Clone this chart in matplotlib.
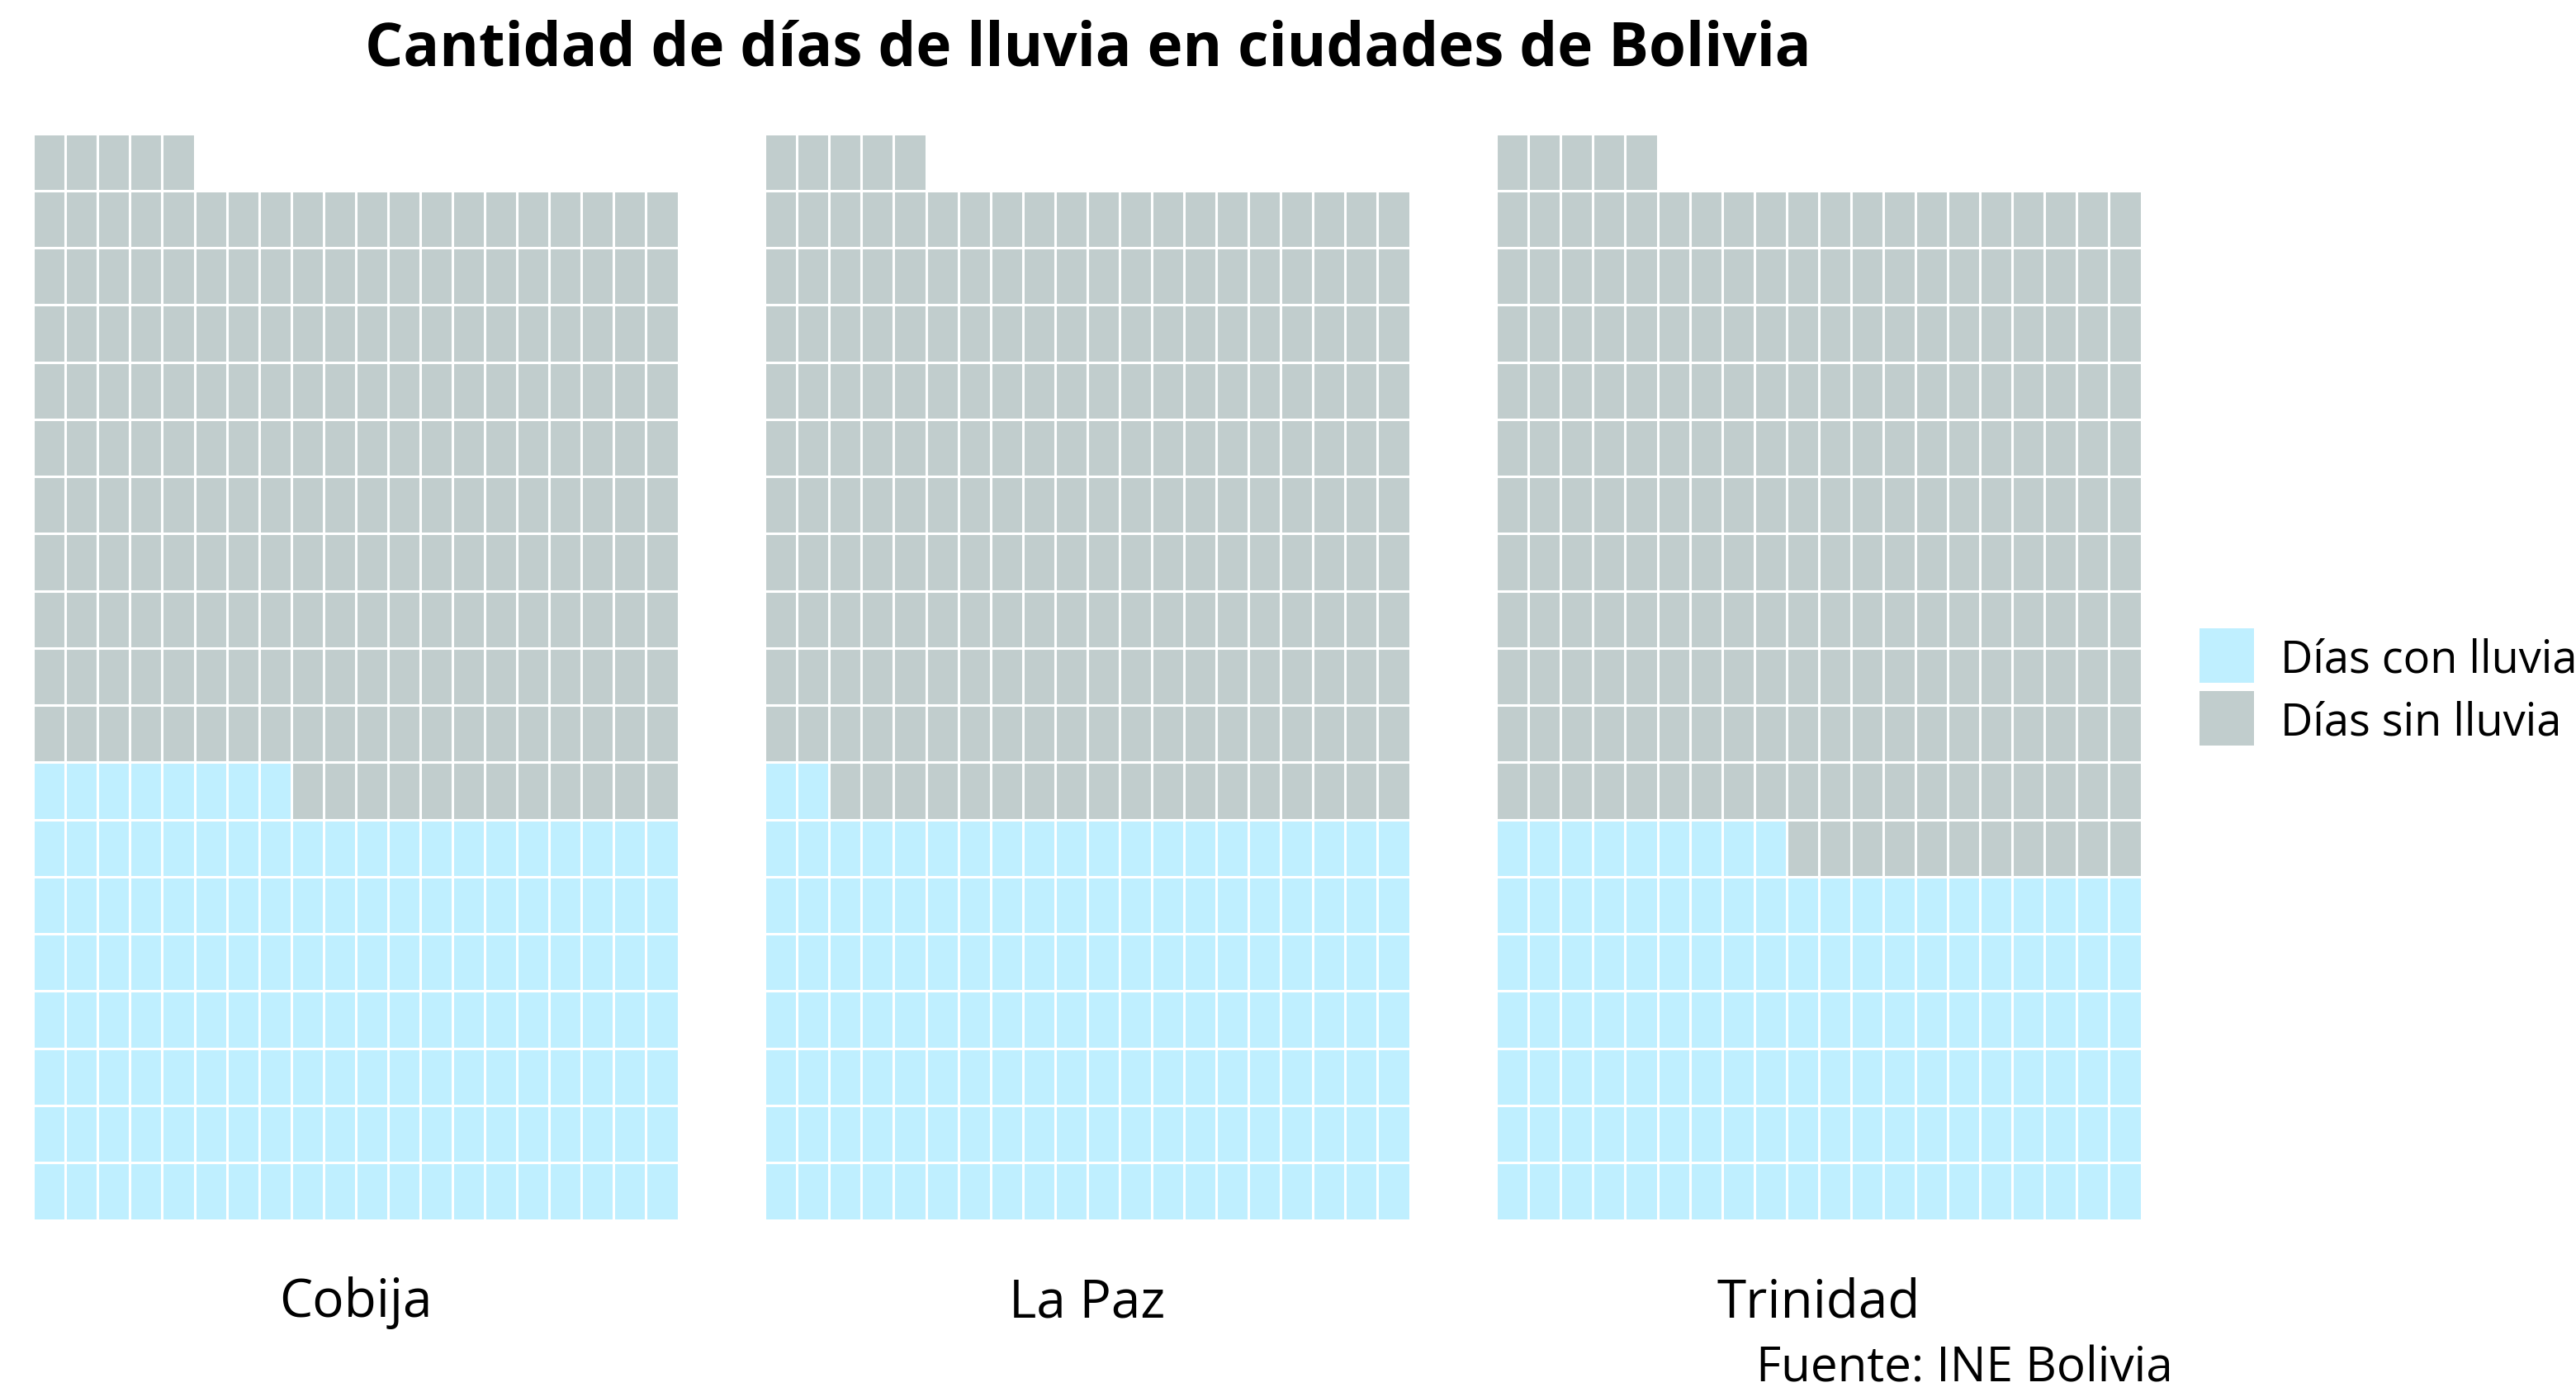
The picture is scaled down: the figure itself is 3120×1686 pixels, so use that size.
import numpy as np
import matplotlib
matplotlib.use('Agg')
import matplotlib.pyplot as plt
from matplotlib.patches import Rectangle

plt.rcParams['font.family'] = ['Open Sans', 'DejaVu Sans']

# data
ciudades = ['Cobija', 'La Paz', 'Trinidad']
dias_lluvia = [148, 142, 129]
dias_totales = 365
categorias = ['Días con lluvia', 'Días sin lluvia']
colores = ['#BFEFFF', '#C1CDCD']
n_cols = 20

W, H = 3120, 1686
fig = plt.figure(figsize=(W / 200, H / 200), dpi=200, facecolor='white')

panel_x = [40.2 / W, 926.2 / W, 1812.2 / W]
panel_w = 781.3 / W
panel_b = 1 - 1477.5 / H
panel_h = 1316 / H
for i, ciudad in enumerate(ciudades):
    ax = fig.add_axes([panel_x[i], panel_b, panel_w, panel_h])
    idx = np.arange(dias_totales)
    cols = idx % n_cols
    rows = idx // n_cols
    cell_colors = [colores[0] if k < dias_lluvia[i] else colores[1] for k in idx]
    ax.bar(cols, 1, bottom=rows, width=1, align='edge', color=cell_colors,
           edgecolor='white', linewidth=1.1)
    ax.set_xlim(0, n_cols)
    ax.set_ylim(0, int(np.ceil(dias_totales / n_cols)))
    ax.axis('off')
    fig.text(panel_x[i] + panel_w / 2, 1 - 1578 / H, ciudad, ha='center',
             va='center', fontsize=23)

fig.text(1318 / W, 1 - 60 / H, 'Cantidad de días de lluvia en ciudades de Bolivia',
         ha='center', va='center', fontsize=26.2, fontweight='bold')
fig.text(2632 / W, 1 - 1658 / H, 'Fuente: INE Bolivia', ha='right',
         va='center', fontsize=21)

# legend drawn by hand so the keys match the reference size
for j, (lab, col) in enumerate(zip(categorias, colores)):
    y0 = 761 + j * 76
    fig.add_artist(Rectangle((2664 / W, 1 - (y0 + 66) / H), 66 / W, 66 / H,
                             transform=fig.transFigure, facecolor=col,
                             edgecolor='none'))
    fig.text(2762 / W, 1 - (y0 + 39) / H, lab, ha='left', va='center',
             fontsize=19.5)

fig.savefig('out.png', dpi=200, facecolor='white')
